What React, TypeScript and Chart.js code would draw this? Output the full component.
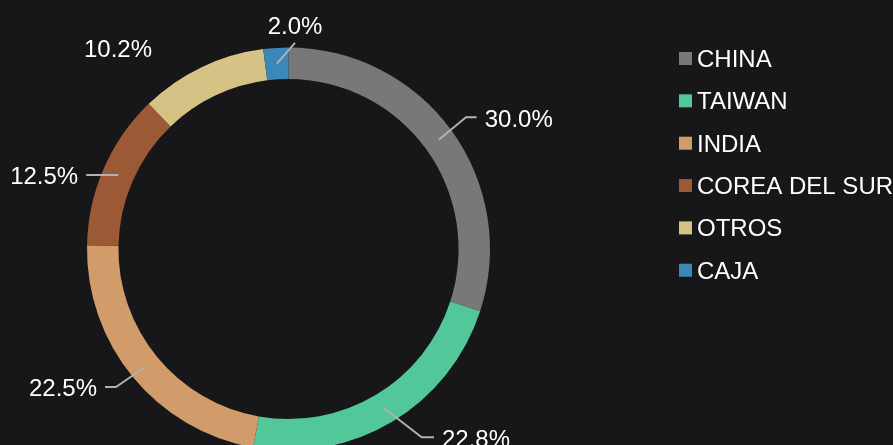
import React, { useEffect, useRef } from "react";
import { Chart, registerables } from "chart.js";

Chart.register(...registerables);

const categories = ["CHINA", "TAIWAN", "INDIA", "COREA DEL SUR", "OTROS", "CAJA"];
const values = [30.0, 22.8, 22.5, 12.5, 10.2, 2.0];
const colors = ["#787878", "#52c89a", "#d19c6a", "#9b5935", "#d6c284", "#3b87b8"];

const BG = "#171719";
const FONT = '24px "Liberation Sans", Arial, sans-serif';

// label layout: elbow in polar coords (deg clockwise from top, factor of outer radius)
type Lay = { angle: number; r: number; side: "left" | "right" | "top"; hLen: number; line: boolean };
const labelLayout: Lay[] = [
  { angle: 53.43, r: 1.0968, side: "right", hLen: 10.7, line: true },
  { angle: 144.72, r: 1.1446, side: "right", hLen: 12.3, line: true },
  { angle: 231.34, r: 1.0963, side: "left", hLen: 11, line: true },
  { angle: 293.42, r: 0.9238, side: "left", hLen: 31.5, line: true },
  { angle: 329.57, r: 1.161, side: "left", hLen: 10, line: false },
  { angle: 1.81, r: 1.023, side: "top", hLen: 0, line: true },
];

const bgPlugin = {
  id: "bg",
  beforeDraw(chart: any) {
    const { ctx, width, height } = chart;
    ctx.save();
    ctx.fillStyle = BG;
    ctx.fillRect(0, 0, width, height);
    ctx.restore();
  },
};

const labelPlugin = {
  id: "pieLabels",
  afterDatasetsDraw(chart: any) {
    const ctx = chart.ctx;
    const meta = chart.getDatasetMeta(0);
    const ds = chart.data.datasets[0];
    ctx.save();
    ctx.font = FONT;
    meta.data.forEach((arc: any, i: number) => {
      const p = arc.getProps(["x", "y", "startAngle", "endAngle", "innerRadius", "outerRadius"], true);
      const mid = (p.startAngle + p.endAngle) / 2;
      const rm = (p.innerRadius + p.outerRadius) / 2;
      const sx = p.x + Math.cos(mid) * rm;
      const sy = p.y + Math.sin(mid) * rm;
      const lay = labelLayout[i];
      const a = ((lay.angle - 90) * Math.PI) / 180;
      const ex = p.x + Math.cos(a) * p.outerRadius * lay.r;
      const ey = p.y + Math.sin(a) * p.outerRadius * lay.r;
      const text = `${Number(ds.data[i]).toFixed(1)}%`;
      let hx = ex;
      if (lay.side === "right") hx = ex + lay.hLen;
      if (lay.side === "left") hx = ex - lay.hLen;
      if (lay.line) {
        ctx.strokeStyle = "#b2b2b2";
        ctx.lineWidth = 1.9;
        ctx.beginPath();
        ctx.moveTo(sx, sy);
        ctx.lineTo(ex, ey);
        if (lay.side !== "top") ctx.lineTo(hx, ey);
        ctx.stroke();
      }
      ctx.fillStyle = "#ffffff";
      ctx.textBaseline = "alphabetic";
      if (lay.side === "right") {
        ctx.textAlign = "left";
        ctx.fillText(text, hx + 8, ey + 9.3);
      } else if (lay.side === "left") {
        ctx.textAlign = "right";
        ctx.fillText(text, hx - 8, ey + 9.3);
      } else {
        ctx.textAlign = "center";
        ctx.fillText(text, ex, ey - 9);
      }
    });
    ctx.restore();
  },
};

const legendPlugin = {
  id: "customLegend",
  afterDraw(chart: any) {
    const ctx = chart.ctx;
    const x0 = chart.chartArea.right + 189;
    const y0 = 58.5;
    const step = 42.35;
    ctx.save();
    ctx.font = FONT;
    ctx.textAlign = "left";
    ctx.textBaseline = "alphabetic";
    chart.data.labels.forEach((lab: string, i: number) => {
      const cy = y0 + i * step;
      ctx.fillStyle = chart.data.datasets[0].backgroundColor[i];
      ctx.fillRect(x0, cy - 6.5, 13, 13);
      ctx.fillStyle = "#ffffff";
      ctx.fillText(lab, x0 + 18, cy + 8.5);
    });
    ctx.restore();
  },
};

export default function App() {
  const ref = useRef<HTMLCanvasElement>(null);
  useEffect(() => {
    document.body.style.margin = "0";
    document.body.style.background = BG;
    const chart = new Chart(ref.current as HTMLCanvasElement, {
      type: "doughnut",
      data: {
        labels: categories,
        datasets: [
          {
            data: values,
            backgroundColor: colors,
            borderWidth: 0,
            hoverOffset: 0,
            offset: 0,
          } as any,
        ],
      },
      options: {
        responsive: false,
        animation: false,
        events: [],
        cutout: "84.4%",
        layout: { padding: { left: 87, right: 403, top: 47.5, bottom: 19.5 } },
        plugins: {
          legend: { display: false },
          tooltip: { enabled: false },
        },
      },
      plugins: [bgPlugin, labelPlugin, legendPlugin],
    });
    return () => chart.destroy();
  }, []);
  return (
    <div style={{ width: 893, height: 445, overflow: "hidden", background: BG }}>
      <canvas ref={ref} width={893} height={470} style={{ display: "block" }} />
    </div>
  );
}
